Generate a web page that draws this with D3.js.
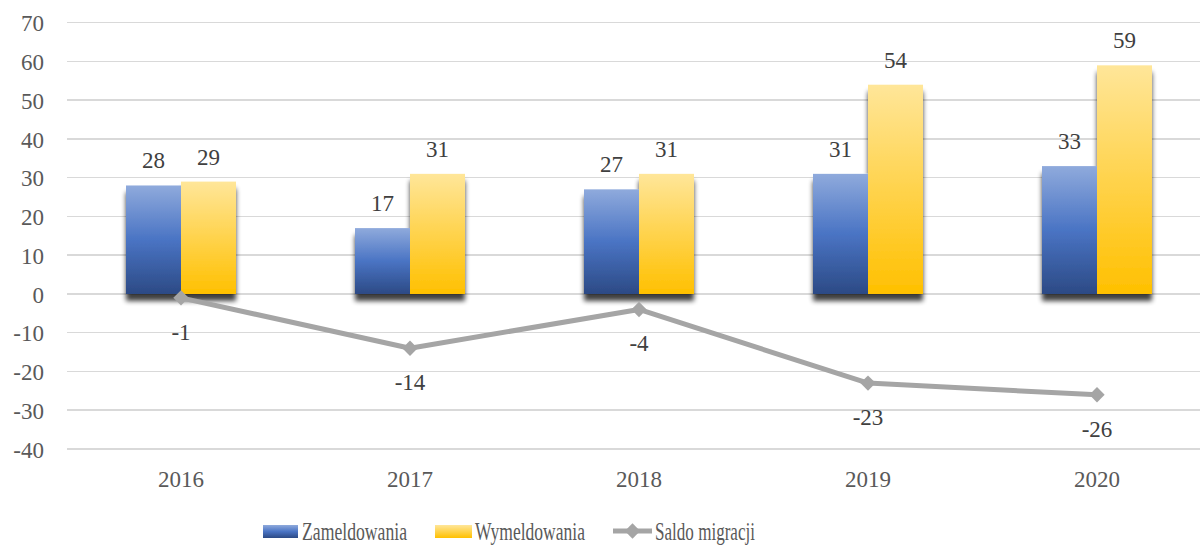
<!DOCTYPE html>
<meta charset="utf-8">
<head>
    <title>Migracje</title>
</head>
<style>
    body {
        margin: 0;
        background-color: #ffffff;
    }

    .grid line {
        stroke: #d9d9d9;
        stroke-width: 1.5px;
        shape-rendering: crispEdges;
    }

    text {
        font-family: "Liberation Serif", "DejaVu Serif", serif;
    }

    .tick text {
        font-size: 23px;
        fill: #595959;
    }

    .val {
        font-size: 23px;
        fill: #404040;
        text-anchor: middle;
    }

    .legend text {
        font-size: 25px;
        fill: #595959;
    }
</style>
<body>
    <svg width="1200" height="545"></svg>
</body>

<script src="https://d3js.org/d3.v7.min.js"></script>
<script>
    // data
    var years = ["2016", "2017", "2018", "2019", "2020"];
    var zameldowania = [28, 17, 27, 31, 33];
    var wymeldowania = [29, 31, 31, 54, 59];
    var saldo = [-1, -14, -4, -23, -26];
    var yTicks = [-40, -30, -20, -10, 0, 10, 20, 30, 40, 50, 60, 70];

    var svg = d3.select("svg");

    var x = d3.scaleBand().domain(years).range([66.5, 1211.5]);
    var y = d3.scaleLinear().domain([-40, 70]).range([449, 22.7]);
    var barW = 55;

    var defs = svg.append("defs");

    var gBlue = defs.append("linearGradient").attr("id", "gBlue")
        .attr("x1", 0).attr("y1", 0).attr("x2", 0).attr("y2", 1);
    gBlue.append("stop").attr("offset", "0%").attr("stop-color", "#8faadc");
    gBlue.append("stop").attr("offset", "50%").attr("stop-color", "#4a74c4");
    gBlue.append("stop").attr("offset", "100%").attr("stop-color", "#2c4a85");

    var gYellow = defs.append("linearGradient").attr("id", "gYellow")
        .attr("x1", 0).attr("y1", 0).attr("x2", 0).attr("y2", 1);
    gYellow.append("stop").attr("offset", "0%").attr("stop-color", "#ffe699");
    gYellow.append("stop").attr("offset", "100%").attr("stop-color", "#ffc000");

    var shadow = defs.append("filter").attr("id", "shadow")
        .attr("x", "-20%").attr("y", "-20%").attr("width", "140%").attr("height", "160%");
    shadow.append("feGaussianBlur").attr("in", "SourceAlpha").attr("stdDeviation", 2.5).attr("result", "b");
    shadow.append("feOffset").attr("in", "b").attr("dx", 0).attr("dy", 7).attr("result", "o");
    shadow.append("feComponentTransfer").attr("in", "o").attr("result", "s")
        .append("feFuncA").attr("type", "linear").attr("slope", 0.75);
    var merge = shadow.append("feMerge");
    merge.append("feMergeNode").attr("in", "s");
    merge.append("feMergeNode").attr("in", "SourceGraphic");

    // gridlines
    svg.append("g")
        .attr("class", "grid")
        .selectAll("line")
        .data(yTicks)
        .enter()
        .append("line")
        .attr("x1", 66.5)
        .attr("x2", 1200)
        .attr("y1", d => y(d))
        .attr("y2", d => y(d));

    // y axis labels (plain hyphen for negatives, as in the original)
    var yAxis = d3.axisLeft(y).tickValues(yTicks).tickSize(0).tickPadding(0)
        .tickFormat(d => String(d));
    svg.append("g")
        .attr("transform", "translate(44,0)")
        .call(yAxis)
        .call(g => g.select(".domain").remove())
        .selectAll("text")
        .attr("dy", "0.35em")
        .attr("font-family", null)
        .attr("font-size", null);

    // x axis labels
    var xAxis = d3.axisBottom(x).tickSize(0).tickPadding(0);
    svg.append("g")
        .attr("transform", "translate(0,470)")
        .call(xAxis)
        .call(g => g.select(".domain").remove())
        .selectAll("text")
        .attr("dy", "0.75em")
        .attr("font-family", null)
        .attr("font-size", null);

    // bars
    var bars = svg.append("g").attr("filter", "url(#shadow)");

    bars.selectAll(".zam")
        .data(zameldowania)
        .enter()
        .append("rect")
        .attr("class", "zam")
        .attr("x", (d, i) => x(years[i]) + x.bandwidth() / 2 - barW)
        .attr("width", barW)
        .attr("y", d => y(d))
        .attr("height", d => y(0) - y(d))
        .attr("fill", "url(#gBlue)");

    bars.selectAll(".wym")
        .data(wymeldowania)
        .enter()
        .append("rect")
        .attr("class", "wym")
        .attr("x", (d, i) => x(years[i]) + x.bandwidth() / 2)
        .attr("width", barW)
        .attr("y", d => y(d))
        .attr("height", d => y(0) - y(d))
        .attr("fill", "url(#gYellow)");

    svg.selectAll(".lz")
        .data(zameldowania)
        .enter()
        .append("text")
        .attr("class", "val")
        .attr("x", (d, i) => x(years[i]) + x.bandwidth() / 2 - barW / 2)
        .attr("y", d => y(d) - 17)
        .text(d => d);

    svg.selectAll(".lw")
        .data(wymeldowania)
        .enter()
        .append("text")
        .attr("class", "val")
        .attr("x", (d, i) => x(years[i]) + x.bandwidth() / 2 + barW / 2)
        .attr("y", d => y(d) - 17)
        .text(d => d);

    // saldo line
    var line = d3.line()
        .x((d, i) => x(years[i]) + x.bandwidth() / 2)
        .y(d => y(d));

    svg.append("path")
        .datum(saldo)
        .attr("d", line)
        .attr("fill", "none")
        .attr("stroke", "#a5a5a5")
        .attr("stroke-width", 5)
        .attr("stroke-linejoin", "round");

    var diamond = d3.symbol().type(d3.symbolDiamond2).size(150);
    svg.selectAll(".dm")
        .data(saldo)
        .enter()
        .append("path")
        .attr("d", diamond)
        .attr("transform", (d, i) => "translate(" + (x(years[i]) + x.bandwidth() / 2) + "," + y(d) + ")")
        .attr("fill", "#a5a5a5");

    svg.selectAll(".ls")
        .data(saldo)
        .enter()
        .append("text")
        .attr("class", "val")
        .attr("x", (d, i) => x(years[i]) + x.bandwidth() / 2)
        .attr("y", d => y(d) + 42)
        .text(d => String(d));

    // legend
    var legend = svg.append("g").attr("class", "legend");

    legend.append("rect").attr("x", 263).attr("y", 525).attr("width", 35).attr("height", 13)
        .attr("fill", "url(#gBlue)");
    legend.append("text").attr("x", 302).attr("y", 540).text("Zameldowania")
        .attr("textLength", 105).attr("lengthAdjust", "spacingAndGlyphs");

    legend.append("rect").attr("x", 435).attr("y", 525).attr("width", 37).attr("height", 13)
        .attr("fill", "url(#gYellow)");
    legend.append("text").attr("x", 475).attr("y", 540).text("Wymeldowania")
        .attr("textLength", 110).attr("lengthAdjust", "spacingAndGlyphs");

    legend.append("line").attr("x1", 613).attr("x2", 652).attr("y1", 531).attr("y2", 531)
        .attr("stroke", "#a5a5a5").attr("stroke-width", 5);
    legend.append("path").attr("d", diamond)
        .attr("transform", "translate(632.5,531)")
        .attr("fill", "#a5a5a5");
    legend.append("text").attr("x", 655).attr("y", 540).text("Saldo migracji")
        .attr("textLength", 100).attr("lengthAdjust", "spacingAndGlyphs");
</script>
